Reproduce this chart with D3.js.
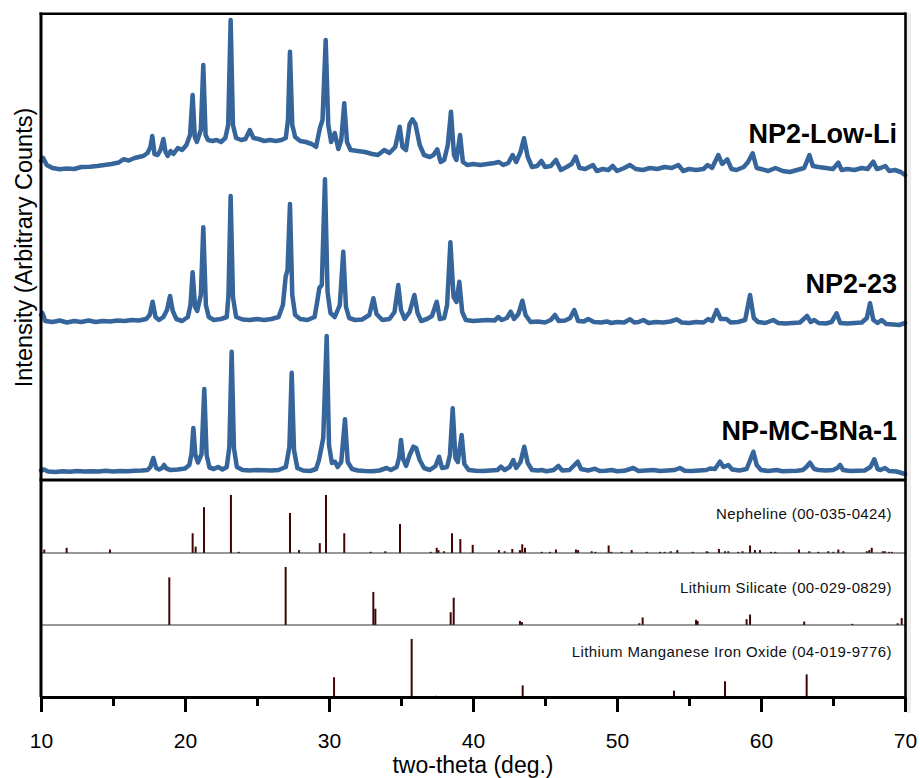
<!DOCTYPE html>
<html>
<head>
<meta charset="utf-8">
<script src="https://cdn.jsdelivr.net/npm/d3@7"></script>
<style>
  body { margin: 0; background: #fff; }
  svg { display: block; }
</style>
</head>
<body>
<svg id="chart" width="920" height="778"></svg>
<script>
// ---- data ----
// XRD patterns: [two-theta, counts above the sample's own offset]
var sampleNames = ["NP-MC-BNa-1", "NP2-23", "NP2-Low-Li"];
var sampleOffsets = [0, 1500, 3000];

var bna1 = [
  [10.0, 95], [10.2, 105], [10.5, 85], [11.0, 80], [11.5, 88], [12.0, 82], [12.5, 90], [13.0, 85],
  [13.5, 88], [14.0, 84], [14.5, 92], [15.0, 86], [15.5, 90], [16.0, 88], [16.5, 92], [17.0, 95],
  [17.4, 100], [17.6, 130], [17.8, 220], [18.0, 120], [18.2, 105], [18.4, 120], [18.55, 150],
  [18.7, 115], [19.0, 100], [19.5, 105], [20.0, 115], [20.3, 150], [20.45, 260], [20.58, 520],
  [20.72, 250], [20.9, 175], [21.15, 260], [21.34, 910], [21.5, 250], [21.7, 125], [22.0, 110],
  [22.3, 130], [22.6, 105], [22.9, 130], [23.08, 330], [23.24, 1283], [23.4, 320], [23.6, 130],
  [24.0, 100], [24.5, 95], [25.0, 100], [25.5, 98], [26.0, 95], [26.5, 100], [27.0, 130],
  [27.25, 330], [27.41, 1073], [27.57, 300], [27.8, 120], [28.2, 95], [28.7, 90], [29.1, 110],
  [29.3, 200], [29.44, 300], [29.6, 420], [29.84, 1440], [30.0, 350], [30.2, 170], [30.42, 183],
  [30.6, 130], [30.85, 180], [31.11, 607], [31.3, 180], [31.6, 110], [32.0, 95], [32.5, 90],
  [33.0, 88], [33.5, 95], [34.0, 120], [34.3, 100], [34.7, 130], [34.88, 230], [35.0, 400],
  [35.15, 210], [35.35, 140], [35.6, 250], [35.86, 333], [36.05, 320], [36.3, 200], [36.6, 120],
  [37.0, 100], [37.4, 140], [37.64, 233], [37.85, 120], [38.2, 130], [38.4, 250], [38.59, 717],
  [38.78, 220], [38.95, 180], [39.21, 450], [39.4, 160], [39.7, 100], [40.2, 92], [40.7, 90],
  [41.2, 95], [41.7, 100], [41.94, 133], [42.2, 100], [42.55, 130], [42.8, 200], [43.0, 120],
  [43.3, 180], [43.56, 333], [43.8, 170], [44.1, 100], [44.5, 95], [44.77, 100], [45.1, 88],
  [45.6, 100], [45.93, 140], [46.2, 95], [46.7, 100], [47.05, 150], [47.27, 183], [47.5, 110],
  [48.0, 95], [48.47, 113], [48.8, 90], [49.2, 92], [49.63, 100], [50.0, 88], [50.5, 92],
  [51.13, 120], [51.5, 90], [52.0, 95], [52.5, 100], [53.0, 90], [53.5, 95], [54.0, 100],
  [54.37, 120], [54.7, 92], [55.2, 90], [55.7, 95], [56.2, 100], [56.46, 115], [56.8, 110],
  [57.15, 183], [57.4, 130], [57.73, 150], [58.0, 105], [58.5, 95], [59.0, 110], [59.25, 200],
  [59.47, 283], [59.7, 150], [60.0, 100], [60.5, 90], [61.09, 100], [61.5, 88], [62.0, 90],
  [62.5, 92], [62.9, 100], [63.15, 130], [63.4, 173], [63.7, 110], [64.0, 100], [64.5, 95],
  [65.0, 100], [65.3, 120], [65.49, 150], [65.7, 100], [66.2, 90], [66.7, 92], [67.2, 95],
  [67.6, 130], [67.87, 207], [68.1, 110], [68.3, 100], [68.61, 120], [68.9, 90], [69.4, 85],
  [70.0, 60]
];

var np223 = [
  [10.0, 150], [10.1, 170], [10.3, 90], [10.8, 80], [11.3, 95], [11.8, 75], [12.3, 90], [12.8, 80],
  [13.3, 95], [13.8, 80], [14.3, 90], [14.8, 85], [15.3, 95], [15.8, 90], [16.3, 100], [16.8, 95],
  [17.3, 110], [17.55, 150], [17.75, 283], [17.95, 130], [18.2, 100], [18.5, 130], [18.75, 200],
  [18.96, 340], [19.15, 190], [19.4, 110], [19.8, 90], [20.2, 130], [20.38, 250], [20.53, 577],
  [20.7, 230], [20.85, 190], [21.1, 350], [21.27, 1027], [21.45, 250], [21.65, 130], [22.0, 100],
  [22.5, 110], [22.9, 130], [23.02, 350], [23.17, 1340], [23.33, 330], [23.55, 130], [24.0, 105],
  [24.5, 100], [25.0, 110], [25.5, 100], [26.0, 110], [26.5, 130], [26.8, 250], [26.99, 533],
  [27.12, 600], [27.29, 1260], [27.45, 350], [27.65, 150], [28.0, 110], [28.5, 100], [29.0, 130],
  [29.2, 300], [29.33, 420], [29.5, 450], [29.72, 1507], [29.9, 380], [30.1, 170], [30.4, 130],
  [30.75, 250], [30.99, 783], [31.18, 230], [31.4, 120], [31.8, 100], [32.3, 105], [32.8, 150],
  [33.08, 317], [33.3, 160], [33.7, 100], [34.2, 110], [34.55, 180], [34.81, 450], [35.0, 200],
  [35.25, 110], [35.6, 180], [35.93, 350], [36.15, 170], [36.4, 90], [36.8, 110], [37.15, 140],
  [37.48, 283], [37.7, 110], [38.0, 120], [38.2, 250], [38.43, 877], [38.65, 330], [38.85, 280],
  [39.05, 483], [39.25, 180], [39.5, 100], [40.0, 90], [40.5, 95], [41.0, 100], [41.5, 95],
  [41.76, 130], [42.0, 100], [42.35, 120], [42.62, 183], [42.85, 110], [43.15, 160], [43.43, 293],
  [43.65, 150], [44.0, 80], [44.5, 85], [45.0, 75], [45.4, 100], [45.69, 150], [45.95, 90],
  [46.4, 95], [46.75, 120], [47.03, 200], [47.3, 90], [47.7, 85], [48.0, 110], [48.4, 80],
  [48.9, 75], [49.3, 85], [49.6, 70], [50.0, 80], [50.5, 75], [50.9, 107], [51.2, 75], [51.5, 80],
  [51.83, 100], [52.2, 70], [52.7, 80], [53.2, 75], [53.7, 85], [54.15, 107], [54.5, 75],
  [55.0, 70], [55.5, 80], [56.0, 75], [56.34, 110], [56.6, 90], [56.92, 200], [57.2, 110],
  [57.6, 110], [57.9, 75], [58.4, 80], [58.9, 100], [59.24, 350], [59.5, 120], [59.8, 80],
  [60.3, 70], [60.85, 100], [61.2, 70], [61.7, 65], [62.2, 70], [62.7, 75], [63.2, 140],
  [63.45, 80], [63.7, 100], [64.0, 70], [64.5, 65], [64.9, 80], [65.25, 167], [65.5, 70],
  [66.0, 65], [66.5, 70], [67.0, 75], [67.35, 120], [67.57, 267], [67.8, 100], [68.1, 70],
  [68.38, 100], [68.7, 60], [69.2, 55], [69.6, 50], [70.0, 70]
];

var lowLi = [
  [10.0, 190], [10.15, 220], [10.4, 150], [10.8, 120], [11.3, 107], [11.8, 115], [12.3, 110],
  [12.8, 130], [13.4, 133], [13.9, 140], [14.4, 150], [14.9, 160], [15.4, 175], [15.72, 207],
  [16.1, 195], [16.5, 220], [16.8, 230], [17.1, 240], [17.4, 270], [17.6, 330], [17.73, 440],
  [17.88, 260], [18.1, 250], [18.3, 300], [18.5, 410], [18.65, 280], [18.8, 240], [19.0, 290],
  [19.2, 260], [19.5, 320], [19.8, 300], [20.1, 350], [20.35, 450], [20.53, 850], [20.68, 430],
  [20.82, 380], [21.1, 500], [21.27, 1150], [21.43, 450], [21.6, 400], [21.9, 390], [22.2, 400],
  [22.5, 380], [22.8, 420], [23.0, 550], [23.17, 1600], [23.33, 550], [23.55, 420], [23.9, 400],
  [24.2, 410], [24.5, 500], [24.75, 420], [25.1, 410], [25.5, 390], [25.9, 400], [26.3, 390],
  [26.7, 400], [27.0, 420], [27.15, 600], [27.29, 1283], [27.45, 550], [27.65, 430], [28.0, 390],
  [28.4, 380], [28.8, 360], [29.1, 330], [29.37, 520], [29.55, 600], [29.77, 1400], [29.95, 550],
  [30.15, 380], [30.4, 470], [30.65, 310], [30.85, 400], [31.06, 767], [31.25, 380], [31.5, 300],
  [32.0, 290], [32.5, 280], [33.0, 260], [33.4, 250], [33.84, 300], [34.2, 270], [34.6, 330],
  [34.91, 533], [35.1, 330], [35.35, 300], [35.6, 560], [35.79, 607], [36.0, 560], [36.3, 350],
  [36.6, 250], [37.0, 230], [37.25, 250], [37.52, 307], [37.75, 180], [38.0, 200], [38.25, 350],
  [38.47, 683], [38.68, 250], [38.85, 200], [39.1, 450], [39.3, 180], [39.6, 150], [40.0, 160],
  [40.5, 150], [41.0, 160], [41.5, 170], [41.8, 180], [42.1, 150], [42.45, 170], [42.75, 250],
  [43.0, 180], [43.3, 280], [43.54, 417], [43.8, 230], [44.1, 130], [44.45, 140], [44.75, 190],
  [45.0, 130], [45.4, 140], [45.76, 200], [46.1, 100], [46.5, 130], [46.85, 160], [47.13, 233],
  [47.4, 120], [47.8, 110], [48.33, 150], [48.6, 90], [49.0, 110], [49.4, 100], [49.7, 140],
  [50.0, 90], [50.5, 120], [50.9, 150], [51.3, 110], [51.8, 100], [52.3, 120], [52.8, 110],
  [53.3, 130], [53.8, 120], [54.26, 150], [54.6, 90], [55.0, 110], [55.5, 100], [56.0, 110],
  [56.3, 150], [56.6, 120], [57.04, 250], [57.3, 160], [57.66, 207], [57.95, 110], [58.3, 100],
  [58.8, 130], [59.1, 180], [59.42, 267], [59.7, 120], [60.0, 110], [60.5, 90], [61.0, 120],
  [61.5, 90], [62.0, 80], [62.5, 100], [63.0, 120], [63.36, 250], [63.6, 140], [64.0, 130],
  [64.5, 120], [65.0, 110], [65.37, 173], [65.6, 100], [66.0, 110], [66.5, 100], [67.0, 120],
  [67.4, 110], [67.8, 183], [68.05, 110], [68.3, 120], [68.64, 140], [68.9, 90], [69.3, 100],
  [69.7, 80], [70.0, 50]
];

// reference cards: [two-theta, relative intensity]
var phaseNames = ["Nepheline (00-035-0424)", "Lithium Silicate (00-029-0829)",
                  "Lithium Manganese Iron Oxide (04-019-9776)"];

var nepheline = [
  [10.23, 6], [11.78, 9], [14.79, 6], [20.53, 34], [20.74, 11], [21.32, 79], [23.19, 100],
  [23.73, 2], [27.29, 69], [27.92, 5], [29.36, 17], [29.79, 100], [31.06, 34], [32.89, 2],
  [33.91, 3], [34.93, 50], [37.06, 2], [37.48, 9], [37.6, 5], [37.99, 3], [38.54, 34], [39.12, 24],
  [39.98, 14], [41.8, 5], [42.2, 3], [42.73, 7], [43.26, 5], [43.42, 15], [43.61, 9], [44.77, 2],
  [45.35, 2], [45.76, 6], [47.15, 6], [47.3, 5], [48.24, 3], [48.5, 2], [49.42, 13], [49.6, 2],
  [50.32, 2], [51.02, 5], [52.06, 2], [52.99, 2], [53.3, 2], [53.73, 3], [54.19, 5], [55.26, 2],
  [56.23, 3], [56.3, 2], [57.08, 7], [57.5, 3], [57.73, 3], [58.42, 2], [58.72, 3], [59.24, 13],
  [59.58, 5], [59.93, 5], [60.7, 2], [61.0, 2], [62.64, 6], [63.35, 3], [63.98, 2], [64.67, 3],
  [65.02, 2], [65.37, 6], [65.72, 3], [67.34, 3], [67.52, 5], [67.69, 9], [68.45, 3], [68.6, 3],
  [68.9, 2], [69.1, 2]
];

var lithiumSilicate = [
  [18.91, 82], [26.99, 100], [33.08, 57], [33.22, 28], [38.45, 22], [38.66, 47], [43.26, 7],
  [43.4, 5], [51.55, 3], [51.78, 13], [55.49, 9], [55.6, 7], [59.0, 10], [59.24, 18], [63.0, 6],
  [66.34, 2], [69.49, 3], [69.77, 12]
];

var lmio = [
  [30.35, 34], [35.74, 100], [37.43, 2], [43.45, 20], [53.96, 11], [57.5, 27], [63.17, 39]
];

var majorTicks = [10, 20, 30, 40, 50, 60, 70];
var minorTicks = [15, 25, 35, 45, 55, 65];

// ---- layout ----
// (plotTop, not "top": window.top is read-only)
var svg = d3.select("#chart"),
    left = 41, right = 905,
    plotTop = 13, mainBottom = 480,
    panelBottoms = [553, 625, 697],
    blue = "#35659a",
    stickColor = "#420505",
    font = "Arial, 'Liberation Sans', sans-serif";

var x = d3.scaleLinear().domain([10, 70]).range([left, right]);
var y = d3.scaleLinear().domain([0, 4670]).range([mainBottom, plotTop]);
// stick heights: 100% = 58 px in a 72 px panel
var stickH = d3.scaleLinear().domain([0, 124]).range([0, 72]);

// faint shadow down the right edge
svg.append("rect")
    .attr("x", 907).attr("y", 13).attr("width", 4).attr("height", 700)
    .attr("fill", "#ececec");

// ---- patterns ----
var line = d3.line()
    .x(function(d) { return x(d[0]); })
    .y(function(d) { return y(d[1]); });

[bna1, np223, lowLi].forEach(function(series, i) {
    var shifted = series.map(function(d) { return [d[0], d[1] + sampleOffsets[i]]; });
    svg.append("path")
        .attr("d", line(shifted))
        .attr("fill", "none")
        .attr("stroke", blue)
        .attr("stroke-width", 4.5)
        .attr("stroke-linejoin", "round")
        .attr("stroke-linecap", "round");
});

var labelBaselines = [440, 293, 143];
sampleNames.forEach(function(name, i) {
    svg.append("text")
        .attr("x", 897).attr("y", labelBaselines[i])
        .attr("text-anchor", "end")
        .attr("font-family", font)
        .attr("font-weight", "bold")
        .attr("font-size", 27)
        .attr("fill", "#000")
        .text(name);
});

// ---- stick panels ----
var phaseLabelBaselines = [519, 593, 657];
[nepheline, lithiumSilicate, lmio].forEach(function(card, i) {
    var base = panelBottoms[i];
    svg.append("g").selectAll("line")
        .data(card)
        .join("line")
        .attr("x1", function(d) { return x(d[0]); })
        .attr("x2", function(d) { return x(d[0]); })
        .attr("y1", base)
        .attr("y2", function(d) { return base - stickH(d[1]); })
        .attr("stroke", stickColor)
        .attr("stroke-width", 2);

    svg.append("text")
        .attr("x", 892).attr("y", phaseLabelBaselines[i])
        .attr("text-anchor", "end")
        .attr("font-family", font)
        .attr("font-size", 15)
        .attr("letter-spacing", "0.4px")
        .attr("fill", "#111")
        .text(phaseNames[i]);
});

// thin separators between the cards
[553, 625].forEach(function(yy) {
    svg.append("line")
        .attr("x1", left).attr("x2", right)
        .attr("y1", yy).attr("y2", yy)
        .attr("stroke", "#333").attr("stroke-width", 1.2);
});

// ---- frame ----
function hline(yy, w) {
    svg.append("line").attr("x1", left - 1.5).attr("x2", right + 1.2)
        .attr("y1", yy).attr("y2", yy)
        .attr("stroke", "#000").attr("stroke-width", w);
}
hline(13.8, 2.6);
hline(480, 3);

svg.append("line").attr("x1", left).attr("x2", left)
    .attr("y1", 12.5).attr("y2", 697)
    .attr("stroke", "#000").attr("stroke-width", 3);
svg.append("line").attr("x1", right + 0.5).attr("x2", right + 0.5)
    .attr("y1", 12.5).attr("y2", 697)
    .attr("stroke", "#000").attr("stroke-width", 2.6);

// ---- x axis ----
var axisG = svg.append("g")
    .attr("transform", "translate(0," + panelBottoms[2] + ")")
    .call(d3.axisBottom(x)
        .tickValues(majorTicks)
        .tickSize(15)
        .tickSizeOuter(0)
        .tickPadding(21)
        .tickFormat(d3.format("d")));

svg.append("g")
    .attr("transform", "translate(0," + panelBottoms[2] + ")")
    .call(d3.axisBottom(x)
        .tickValues(minorTicks)
        .tickSize(9)
        .tickSizeOuter(0)
        .tickFormat(""))
    .call(function(g) { g.select(".domain").remove(); })
    .selectAll("line").attr("stroke", "#000").attr("stroke-width", 3);

axisG.select(".domain").attr("stroke", "#000").attr("stroke-width", 3);
axisG.selectAll(".tick line").attr("stroke", "#000").attr("stroke-width", 3);
axisG.selectAll(".tick text")
    .attr("font-family", font)
    .attr("font-size", 21)
    .attr("fill", "#000");

svg.append("text")
    .attr("x", (left + right) / 2).attr("y", 773)
    .attr("text-anchor", "middle")
    .attr("font-family", font)
    .attr("font-size", 23)
    .attr("fill", "#000")
    .text("two-theta (deg.)");

svg.append("text")
    .attr("transform", "translate(32,247.5) rotate(-90)")
    .attr("text-anchor", "middle")
    .attr("font-family", font)
    .attr("font-size", 23.5)
    .attr("fill", "#000")
    .text("Intensity (Arbitrary Counts)");
</script>
</body>
</html>
